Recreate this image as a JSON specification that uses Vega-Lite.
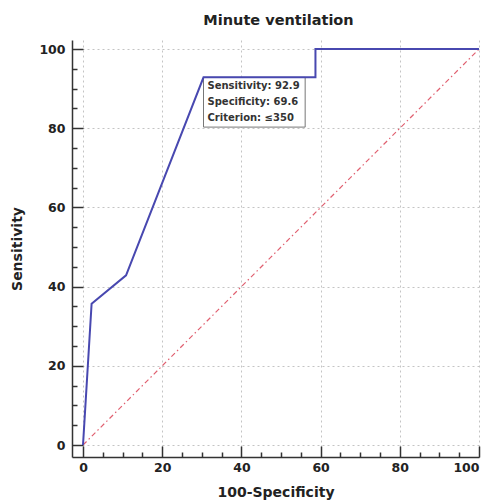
{
  "$schema": "https://vega.github.io/schema/vega-lite/v6.json",
  "width": 407,
  "height": 417,
  "autosize": "none",
  "padding": {"left": 72, "top": 40, "right": 14, "bottom": 45},
  "background": "white",
  "title": {
    "text": "Minute ventilation",
    "font": "DejaVu Sans",
    "fontSize": 14.5,
    "fontWeight": "bold",
    "color": "#222222",
    "frame": "group",
    "anchor": "middle",
    "baseline": "alphabetic",
    "offset": 1,
    "dx": 3
  },
  "datasets": {
    "roc": [
      {"fpr": 0, "sens": 0, "i": 0},
      {"fpr": 2.17, "sens": 35.71, "i": 1},
      {"fpr": 10.87, "sens": 42.86, "i": 2},
      {"fpr": 30.43, "sens": 92.86, "i": 3},
      {"fpr": 58.7, "sens": 92.86, "i": 4},
      {"fpr": 58.7, "sens": 100, "i": 5},
      {"fpr": 100, "sens": 100, "i": 6}
    ],
    "diag": [
      {"fpr": 0, "sens": 0},
      {"fpr": 100, "sens": 100}
    ],
    "annot": [
      {"fpr": 30.43, "sens": 92.86, "fpr2": 56.1, "sens2": 80.3, "label": ["Sensitivity: 92.9", "Specificity: 69.6", "Criterion: ≤350"]}
    ]
  },
  "config": {
    "view": {"stroke": null},
    "axis": {
      "labelFont": "DejaVu Sans",
      "labelFontWeight": "bold",
      "labelFontSize": 12.5,
      "labelColor": "#222222",
      "titleFont": "DejaVu Sans",
      "titleFontWeight": "bold",
      "titleFontSize": 14,
      "titleColor": "#222222",
      "domainColor": "#333333",
      "domainWidth": 1.5,
      "tickColor": "#333333",
      "tickWidth": 1.5,
      "gridColor": "#c4c4c4",
      "gridDash": [2, 3],
      "gridWidth": 1
    }
  },
  "resolve": {"axis": {"x": "independent", "y": "independent"}},
  "layer": [
    {
      "data": {"name": "diag"},
      "mark": {"type": "line", "stroke": "#e06070", "strokeWidth": 1.2, "strokeDash": [5, 3, 1.5, 3]},
      "encoding": {
        "x": {
          "field": "fpr", "type": "quantitative",
          "scale": {"domain": [-2.78, 100], "nice": false, "zero": false},
          "axis": {"orient": "bottom", "values": [0, 20, 40, 60, 80, 100], "tickSize": -11, "labelPadding": 15, "title": "100-Specificity", "titlePadding": 12, "grid": true, "format": "d"}
        },
        "y": {
          "field": "sens", "type": "quantitative",
          "scale": {"domain": [-3.03, 102.3], "nice": false, "zero": false},
          "axis": {"orient": "left", "values": [0, 20, 40, 60, 80, 100], "tickSize": -11, "labelPadding": 18, "title": "Sensitivity", "titlePadding": 14, "grid": true, "format": "d"}
        }
      }
    },
    {
      "data": {"name": "annot"},
      "mark": {"type": "rect", "fill": "white", "stroke": "#777777", "strokeWidth": 1},
      "encoding": {
        "x": {"field": "fpr", "type": "quantitative", "axis": null},
        "x2": {"field": "fpr2"},
        "y": {"field": "sens", "type": "quantitative", "axis": null},
        "y2": {"field": "sens2"}
      }
    },
    {
      "data": {"name": "roc"},
      "mark": {"type": "line", "color": "#4848b0", "strokeWidth": 2},
      "encoding": {
        "x": {
          "field": "fpr", "type": "quantitative",
          "axis": {"orient": "bottom", "values": [5, 10, 15, 25, 30, 35, 45, 50, 55, 65, 70, 75, 85, 90, 95], "tickSize": -5, "labels": false, "domain": false, "grid": false, "title": null}
        },
        "y": {
          "field": "sens", "type": "quantitative",
          "axis": {"orient": "left", "values": [5, 10, 15, 25, 30, 35, 45, 50, 55, 65, 70, 75, 85, 90, 95], "tickSize": -5, "labels": false, "domain": false, "grid": false, "title": null}
        },
        "order": {"field": "i"}
      }
    },
    {
      "data": {"name": "annot"},
      "mark": {"type": "text", "align": "left", "baseline": "top", "dx": 4, "dy": 4, "font": "DejaVu Sans", "fontWeight": "bold", "fontSize": 10, "lineHeight": 16, "color": "#333333"},
      "encoding": {
        "x": {"field": "fpr", "type": "quantitative", "axis": null},
        "y": {"field": "sens", "type": "quantitative", "axis": null},
        "text": {"field": "label"}
      }
    }
  ]
}
